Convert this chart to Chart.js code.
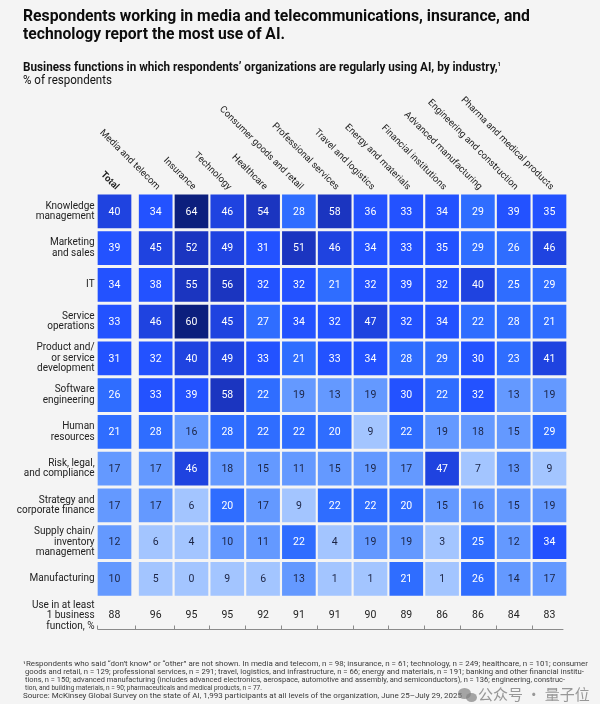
<!DOCTYPE html>
<html>
<head>
<meta charset="utf-8">
<script src="https://cdn.jsdelivr.net/npm/chart.js@4.4.1/dist/chart.umd.min.js"></script>
<style>
  html, body { margin: 0; padding: 0; background: #f4f4f4; }
  #wrap { position: relative; width: 600px; height: 704px; overflow: hidden;
          font-family: Roboto, "Liberation Sans", sans-serif; color: #111; }
  #chartBox { position: absolute; left: 0; top: 0; width: 600px; height: 704px; }
  .ln { position: absolute; left: 23px; white-space: nowrap; transform-origin: 0 0; }
  .title { font-size: 17px; font-weight: 700; line-height: 20px; color: #0d0d0d; }
  .sub { font-size: 12px; line-height: 14px; color: #111; }
  .sub b sup { font-size: 6px; vertical-align: 5px; }
  .foot { font-size: 6.5px; line-height: 8px; color: #3a3a3a; }
  .mark { position: absolute; left: 478px; top: 685px; font-family: "Noto Sans CJK SC", sans-serif;
          font-size: 15px; line-height: 17px; color: rgba(120,120,120,0.75); white-space: nowrap; }
  .bubble { position: absolute; border-radius: 50%; background: rgba(130,130,130,0.7); }
</style>
</head>
<body>
<div id="wrap">
  <div id="chartBox"><canvas id="heatChart"></canvas></div>

  <span class="ln title" style="top:5px" data-w="507">Respondents working in media and telecommunications, insurance, and</span>
  <span class="ln title" style="top:23px" data-w="262">technology report the most use of AI.</span>

  <span class="ln sub" style="top:57px" data-w="478"><b>Business functions in which respondents’ organizations are regularly using AI, by industry,<sup>1</sup></b></span>
  <span class="ln sub" style="top:73px" data-w="89">% of respondents</span>

  <span class="ln foot" style="top:660px" data-w="565">¹Respondents who said “don’t know” or “other” are not shown. In media and telecom, n = 98; insurance, n = 61; technology, n = 249; healthcare, n = 101; consumer</span>
  <span class="ln foot" style="top:668px; left:25px" data-w="559">goods and retail, n = 129; professional services, n = 291; travel, logistics, and infrastructure, n = 66; energy and materials, n = 191; banking and other financial institu-</span>
  <span class="ln foot" style="top:676px; left:25px" data-w="540">tions, n = 150; advanced manufacturing (includes advanced electronics, aerospace, automotive and assembly, and semiconductors), n = 136; engineering, construc-</span>
  <span class="ln foot" style="top:684px; left:25px" data-w="237">tion, and building materials, n = 90; pharmaceuticals and medical products, n = 77.</span>
  <span class="ln foot" style="top:692px" data-w="439">Source: McKinsey Global Survey on the state of AI, 1,993 participants at all levels of the organization, June 25–July 29, 2025</span>

  <div class="bubble" style="left:458px; top:688px; width:13px; height:11px"></div>
  <div class="bubble" style="left:466px; top:693px; width:11px; height:9px"></div>
  <span class="mark">公众号 · 量子位</span>
</div>

<script>
// ── DATA ──────────────────────────────────────────────────
const COLUMNS = [
  "Total", "Media and telecom", "Insurance", "Technology", "Healthcare",
  "Consumer goods and retail", "Professional services", "Travel and logistics",
  "Energy and materials", "Financial institutions", "Advanced manufacturing",
  "Engineering and construction", "Pharma and medical products"
];

const ROW_LABELS = [
  ["Knowledge", "management"],
  ["Marketing", "and sales"],
  ["IT"],
  ["Service", "operations"],
  ["Product and/", "or service", "development"],
  ["Software", "engineering"],
  ["Human", "resources"],
  ["Risk, legal,", "and compliance"],
  ["Strategy and", "corporate finance"],
  ["Supply chain/", "inventory", "management"],
  ["Manufacturing"],
  ["Use in at least", "1 business", "function, %"]
];

const knowledgeMgmt = [40, 34, 64, 46, 54, 28, 58, 36, 33, 34, 29, 39, 35];
const marketingSales = [39, 45, 52, 49, 31, 51, 46, 34, 33, 35, 29, 26, 46];
const itFunction     = [34, 38, 55, 56, 32, 32, 21, 32, 39, 32, 40, 25, 29];
const serviceOps     = [33, 46, 60, 45, 27, 34, 32, 47, 32, 34, 22, 28, 21];
const productDev     = [31, 32, 40, 49, 33, 21, 33, 34, 28, 29, 30, 23, 41];
const softwareEng    = [26, 33, 39, 58, 22, 19, 13, 19, 30, 22, 32, 13, 19];
const humanRes       = [21, 28, 16, 28, 22, 22, 20,  9, 22, 19, 18, 15, 29];
const riskLegal      = [17, 17, 46, 18, 15, 11, 15, 19, 17, 47,  7, 13,  9];
const strategyFin    = [17, 17,  6, 20, 17,  9, 22, 22, 20, 15, 16, 15, 19];
const supplyChain    = [12,  6,  4, 10, 11, 22,  4, 19, 19,  3, 25, 12, 34];
const manufacturing  = [10,  5,  0,  9,  6, 13,  1,  1, 21,  1, 26, 14, 17];
const useAtLeastOne  = [88, 96, 95, 95, 92, 91, 91, 90, 89, 86, 86, 84, 83];

const ROW_VALUES = [knowledgeMgmt, marketingSales, itFunction, serviceOps, productDev,
  softwareEng, humanRes, riskLegal, strategyFin, supplyChain, manufacturing];

// ── STYLE HELPERS ─────────────────────────────────────────
const FONT = "Roboto, 'Liberation Sans', sans-serif";
const TOTAL_GAP = 0.15;                       // extra space after the Total column
const colX = i => (i === 0 ? 0 : i + TOTAL_GAP);
const X_MAX = COLUMNS.length - 1 + TOTAL_GAP + 0.5;
const USE_ROW = ROW_VALUES.length;

function cellColor(v) {
  if (v >= 60) return "#0c1f7d";
  if (v >= 50) return "#1b35c0";
  if (v >= 40) return "#1f43e0";
  if (v >= 30) return "#2352ff";
  if (v >= 20) return "#2f6dff";
  if (v >= 10) return "#6499ff";
  return "#a3c5ff";
}
const textColor = v => (v >= 20 ? "#ffffff" : "#1c2444");

// ── PLUGINS ───────────────────────────────────────────────
const columnHeaders = {
  id: "columnHeaders",
  afterDraw(chart) {
    const { ctx, chartArea, scales: { x } } = chart;
    COLUMNS.forEach((name, i) => {
      ctx.save();
      ctx.translate(x.getPixelForValue(colX(i)) + 1, chartArea.top - 3);
      ctx.rotate(Math.PI / 4);
      ctx.textAlign = "right";
      ctx.textBaseline = "alphabetic";
      ctx.font = (i === 0 ? "bold " : "") + "9.5px " + FONT;
      ctx.fillStyle = "#222";
      ctx.fillText(name, 0, 0);
      ctx.restore();
    });
  }
};

const cellLabels = {
  id: "cellLabels",
  afterDatasetsDraw(chart) {
    const { ctx, scales: { x, y } } = chart;
    ctx.save();
    ctx.font = "10.5px " + FONT;
    ctx.textAlign = "center";
    ctx.textBaseline = "middle";
    chart.data.datasets.forEach((ds, r) => {
      chart.getDatasetMeta(r).data.forEach((bar, c) => {
        const v = ROW_VALUES[r][c];
        const p = bar.getCenterPoint();
        ctx.fillStyle = textColor(v);
        ctx.fillText(String(v), p.x, p.y + 0.5);
      });
    });
    // "use in at least one function" row
    ctx.fillStyle = "#222";
    useAtLeastOne.forEach((v, c) => {
      ctx.fillText(String(v), x.getPixelForValue(colX(c)), y.getPixelForValue(USE_ROW));
    });
    // bottom rule with ticks between columns
    const yl = Math.round(y.getPixelForValue(USE_ROW + 0.5)) - 4.5;
    ctx.strokeStyle = "#8a8a8a";
    ctx.lineWidth = 1;
    ctx.beginPath();
    ctx.moveTo(x.getPixelForValue(-0.5) + 1, yl);
    ctx.lineTo(x.getPixelForValue(X_MAX) - 4, yl);
    const ticks = [-0.5];
    for (let c = 0; c < COLUMNS.length - 1; c++) ticks.push((colX(c) + colX(c + 1)) / 2);
    ticks.forEach(t => {
      const px = Math.round(x.getPixelForValue(t)) + 0.5;
      ctx.moveTo(px, yl);
      ctx.lineTo(px, yl - 4);
    });
    ctx.stroke();
    ctx.restore();
  }
};

// ── CHART ─────────────────────────────────────────────────
const datasets = ROW_VALUES.map((vals, r) => ({
  label: ROW_LABELS[r].join(" "),
  data: vals.map((v, c) => ({ x: colX(c), y: [r - 0.45, r + 0.45] })),
  backgroundColor: ctx => cellColor(vals[ctx.dataIndex]),
  borderWidth: 0,
  barThickness: 33,
  grouped: false
}));

new Chart(document.getElementById("heatChart"), {
  type: "bar",
  data: { datasets },
  options: {
    responsive: true,
    maintainAspectRatio: false,
    animation: false,
    events: [],
    layout: { padding: { left: 0, right: 600 - 567.4, top: 193.1, bottom: 69.9 } },
    plugins: { legend: { display: false }, tooltip: { enabled: false } },
    scales: {
      x: { type: "linear", offset: false, min: -0.5, max: X_MAX, display: false },
      y: {
        type: "linear",
        min: -0.5,
        max: USE_ROW + 0.5,
        reverse: true,
        afterBuildTicks: s => { s.ticks = ROW_LABELS.map((_, i) => ({ value: i })); },
        afterFit: s => { s.width = 96.6; },
        grid: { display: false, drawTicks: false, tickLength: 0 },
        border: { display: false },
        ticks: {
          callback: v => ROW_LABELS[v],
          font: { family: FONT, size: 10, lineHeight: 1.05 },
          color: "#222",
          padding: 2,
          autoSkip: false
        }
      }
    }
  },
  plugins: [columnHeaders, cellLabels]
});

// squeeze HTML text lines to the widths seen in the reference
document.fonts.ready.then(() => {
  document.querySelectorAll("[data-w]").forEach(el => {
    const w = el.getBoundingClientRect().width;
    el.style.transform = `scaleX(${(el.dataset.w / w).toFixed(4)})`;
  });
});
</script>
</body>
</html>
